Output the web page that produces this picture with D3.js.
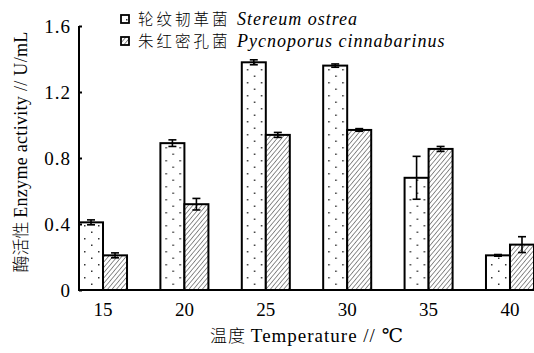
<!DOCTYPE html>
<html>
<head>
<meta charset="utf-8">
<script src="https://cdn.jsdelivr.net/npm/d3@7"></script>
<style>
  html, body { margin: 0; padding: 0; background: #fff; }
  svg { display: block; }
  .serif { font-family: "Liberation Serif", "Times New Roman", Times, "DejaVu Serif", serif; }
  .cjk { font-family: "Noto Sans CJK SC", sans-serif; font-weight: 300; }
</style>
</head>
<body>
<svg id="chart" width="534" height="353"></svg>
<script>
// Temperature groups (°C)
const temperatures = ["15", "20", "25", "30", "35", "40"];
// Enzyme activity (U/mL), mean and error, per strain
const stereumValues = [0.41, 0.89, 1.38, 1.36, 0.68, 0.21];
const stereumErrors = [0.015, 0.02, 0.015, 0.01, 0.13, 0.005];
const pycnoValues = [0.21, 0.52, 0.94, 0.97, 0.855, 0.275];
const pycnoErrors = [0.015, 0.035, 0.015, 0.008, 0.015, 0.048];
const yTicks = [0, 0.4, 0.8, 1.2, 1.6];
const seriesNames = [
  { cn: "轮纹韧革菌", en: "Stereum ostrea", fill: "url(#dots)" },
  { cn: "朱红密孔菌", en: "Pycnoporus cinnabarinus", fill: "url(#hatch)" }
];

const series = [
  { values: stereumValues, errors: stereumErrors, fill: "url(#dots)" },
  { values: pycnoValues, errors: pycnoErrors, fill: "url(#hatch)" }
];

const svg = d3.select("#chart");

// Fill patterns: staggered dots and diagonal hatching
const defs = svg.append("defs");
const dots = defs.append("pattern").attr("id", "dots")
  .attr("patternUnits", "userSpaceOnUse").attr("width", 14).attr("height", 13)
  .attr("x", 2).attr("y", 2);
dots.append("rect").attr("width", 14).attr("height", 13).attr("fill", "#fff");
dots.append("rect").attr("x", 3).attr("y", 2).attr("width", 1.5).attr("height", 1.5).attr("fill", "#333");
dots.append("rect").attr("x", 10).attr("y", 8.5).attr("width", 1.5).attr("height", 1.5).attr("fill", "#333");

const hatch = defs.append("pattern").attr("id", "hatch")
  .attr("patternUnits", "userSpaceOnUse").attr("width", 3.4).attr("height", 3.4)
  .attr("patternTransform", "rotate(40)");
hatch.append("rect").attr("width", 3.4).attr("height", 3.4).attr("fill", "#fff");
hatch.append("line").attr("x1", 0).attr("y1", 0).attr("x2", 0).attr("y2", 3.4)
  .attr("stroke", "#222").attr("stroke-width", 1);

// Scales
const x0 = d3.scaleBand().domain(temperatures).range([79, 534])
  .paddingInner(0.41).paddingOuter(0);
const x1 = d3.scaleBand().domain([0, 1]).range([0, x0.bandwidth()]).padding(0);
const y = d3.scaleLinear().domain([0, 1.6]).range([290, 26]);

// Bars
const groups = svg.append("g").selectAll("g").data(temperatures).join("g")
  .attr("transform", d => `translate(${x0(d)},0)`);

series.forEach((s, si) => {
  groups.append("rect")
    .attr("x", x1(si))
    .attr("y", (d, i) => y(s.values[i]))
    .attr("width", x1.bandwidth())
    .attr("height", (d, i) => y(0) - y(s.values[i]))
    .attr("fill", s.fill)
    .attr("stroke", "#000")
    .attr("stroke-width", 2);

  // Error bars
  const cx = x1(si) + x1.bandwidth() / 2;
  const eb = groups.append("g").attr("stroke", "#000").attr("stroke-width", 1.6);
  eb.append("line").attr("x1", cx).attr("x2", cx)
    .attr("y1", (d, i) => y(s.values[i] + s.errors[i]))
    .attr("y2", (d, i) => y(s.values[i] - s.errors[i]));
  [1, -1].forEach(sign => {
    eb.append("line").attr("x1", cx - 4).attr("x2", cx + 4)
      .attr("y1", (d, i) => y(s.values[i] + sign * s.errors[i]))
      .attr("y2", (d, i) => y(s.values[i] + sign * s.errors[i]));
  });
});

// Y axis with inward ticks
const yAxis = svg.append("g").attr("transform", "translate(79,0)")
  .call(d3.axisRight(y).tickValues(yTicks).tickSize(3))
  .attr("font-family", null).attr("font-size", null);
yAxis.select(".domain").attr("stroke-width", 2).attr("d", `M0,${y(1.6)}V${y(0)}`);
yAxis.selectAll(".tick line").attr("stroke-width", 2);
yAxis.selectAll(".tick text")
  .attr("class", "serif")
  .attr("x", -8).attr("text-anchor", "end")
  .attr("font-size", 19).attr("fill", "#000").attr("letter-spacing", 1)
  .text(d => d === 0 ? "0" : d.toFixed(1));

// X axis line and labels
svg.append("line").attr("x1", 78).attr("x2", 534)
  .attr("y1", y(0)).attr("y2", y(0)).attr("stroke", "#000").attr("stroke-width", 2);
svg.append("g").selectAll("text").data(temperatures).join("text")
  .attr("class", "serif")
  .attr("x", d => x0(d) + x0.bandwidth() / 2)
  .attr("y", 316)
  .attr("text-anchor", "middle")
  .attr("font-size", 19)
  .text(d => d);

// Axis titles
const xt = svg.append("text").attr("x", 307).attr("y", 342).attr("text-anchor", "middle")
  .attr("font-size", 17);
xt.append("tspan").attr("class", "cjk").attr("letter-spacing", 1).text("温度 ");
xt.append("tspan").attr("class", "serif").attr("font-size", 19).attr("letter-spacing", 1).text("Temperature // ℃");

const yt = svg.append("text").attr("transform", "translate(27,152) rotate(-90)")
  .attr("text-anchor", "middle").attr("font-size", 17);
yt.append("tspan").attr("class", "cjk").text("酶活性 ");
yt.append("tspan").attr("class", "serif").attr("font-size", 18).attr("letter-spacing", 0.3).text("Enzyme activity // U/mL");

// Legend
const legend = svg.append("g").selectAll("g").data(seriesNames).join("g")
  .attr("transform", (d, i) => `translate(121,${15 + i * 22})`);
legend.append("rect").attr("width", 8).attr("height", 8)
  .attr("fill", d => d.fill).attr("stroke", "#000").attr("stroke-width", 1.8);
const lt = legend.append("text").attr("x", 17).attr("y", 10).attr("font-size", 15.5);
lt.append("tspan").attr("class", "cjk").attr("letter-spacing", 3).text(d => d.cn + " ");
lt.append("tspan").attr("class", "serif").attr("font-size", 18).attr("font-style", "italic")
  .attr("letter-spacing", 1).text(d => d.en);
</script>
</body>
</html>
